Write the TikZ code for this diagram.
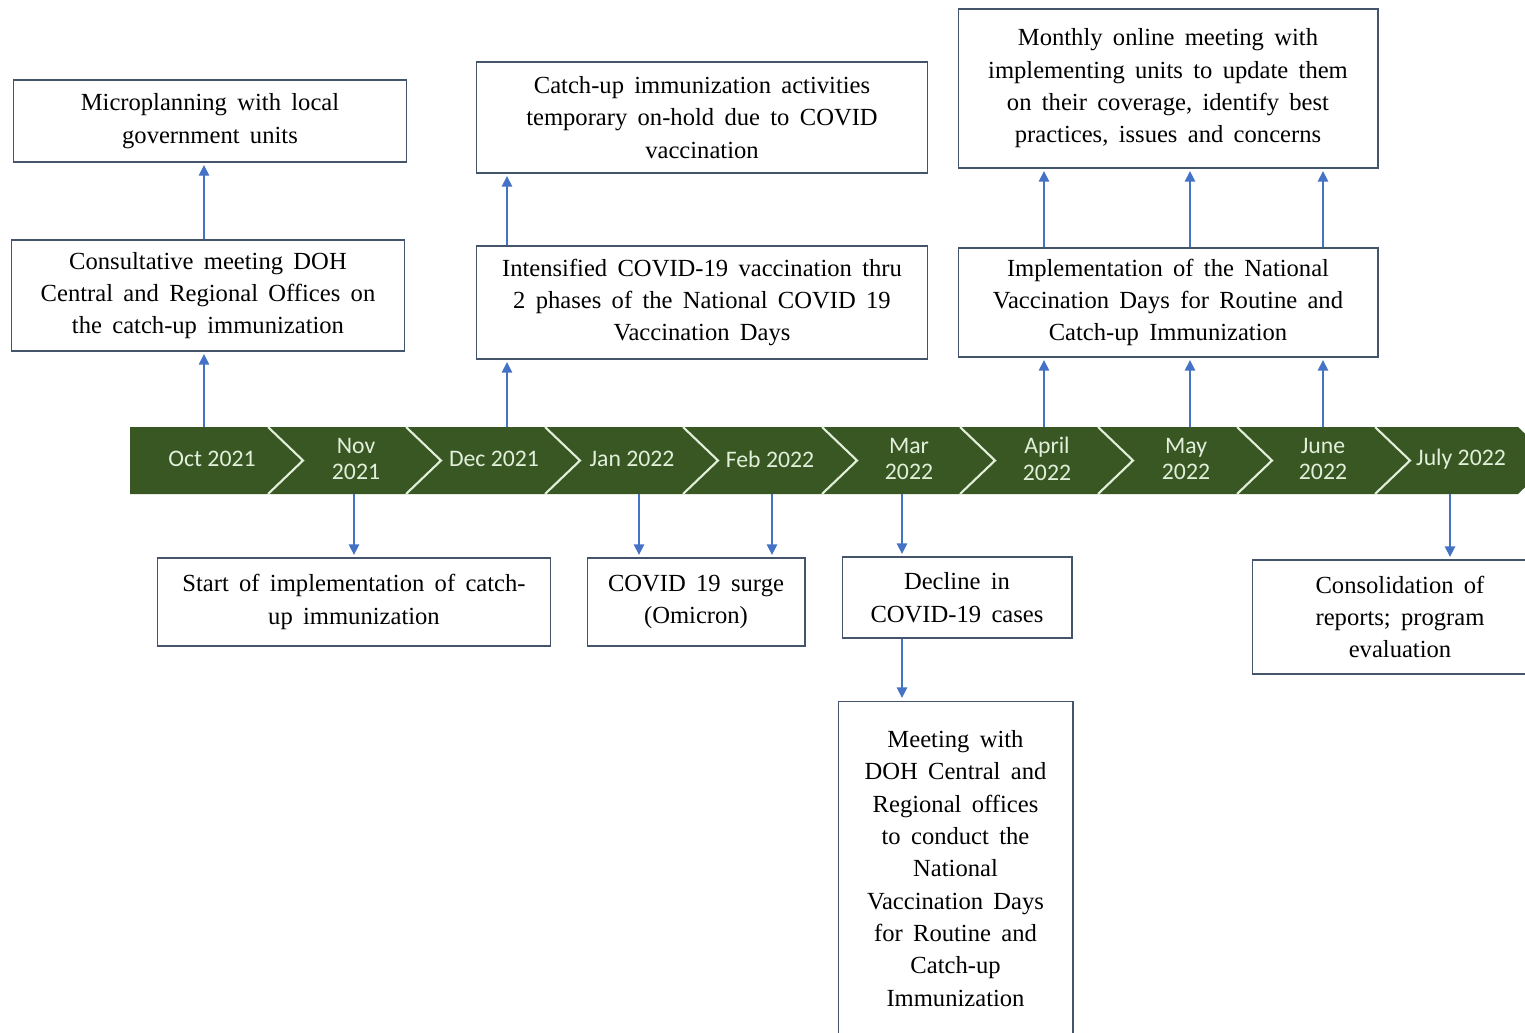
\documentclass[tikz,border=0pt]{standalone}
\usepackage{fontspec}
\setmainfont{Liberation Serif}
\newfontfamily\monthfont{Carlito}
\newcommand\widespaces{\spaceskip=0.42em\relax}
\usetikzlibrary{arrows.meta}
\definecolor{bandgreen}{RGB}{56,87,35}
\definecolor{bandtext}{RGB}{226,239,218}
\definecolor{boxline}{RGB}{68,84,106}
\definecolor{linkblue}{RGB}{68,114,196}
\begin{document}
\begin{tikzpicture}[x=0.02cm,y=-0.02cm,
  >={Triangle[length=6pt,width=6pt]},
  box/.style={draw=boxline,line width=0.6pt,align=center,inner sep=0pt,
    font=\fontsize{14}{18.4}\selectfont\widespaces},
  month/.style={text=bandtext,align=center,font=\monthfont\fontsize{13.5}{15}\selectfont},
  link/.style={->,draw=linkblue,line width=0.8pt,shorten >=1.5pt}]
\clip (0,0) rectangle (1525,1032);

% timeline band
\fill[bandgreen] (130,427) -- (1518,427) -- (1553,460.5) -- (1518,494) -- (130,494) -- cycle;
\draw[bandtext,line width=1.2pt] (268,427) -- (303,460.5) -- (268,494);
\draw[bandtext,line width=1.2pt] (406,427) -- (441,460.5) -- (406,494);
\draw[bandtext,line width=1.2pt] (545,427) -- (580,460.5) -- (545,494);
\draw[bandtext,line width=1.2pt] (683,427) -- (718,460.5) -- (683,494);
\draw[bandtext,line width=1.2pt] (822,427) -- (857,460.5) -- (822,494);
\draw[bandtext,line width=1.2pt] (960,427) -- (995,460.5) -- (960,494);
\draw[bandtext,line width=1.2pt] (1098,427) -- (1133,460.5) -- (1098,494);
\draw[bandtext,line width=1.2pt] (1237,427) -- (1272,460.5) -- (1237,494);
\draw[bandtext,line width=1.2pt] (1375,427) -- (1410,460.5) -- (1375,494);

\node[month] (oct) at (212,459) {Oct 2021};
\node[month] (nov) at (356,459) {Nov\\2021};
\node[month] (dec) at (494,459) {Dec 2021};
\node[month] (jan) at (632,459) {Jan 2022};
\node[month] (feb) at (770,459) {Feb 2022};
\node[month] (mar) at (909,459) {Mar\\2022};
\node[month] (apr) at (1047,459) {April\\2022};
\node[month] (may) at (1186,459) {May\\2022};
\node[month] (jun) at (1323,459) {June\\2022};
\node[month] (jul) at (1461,459) {July 2022};

% points on the band
\coordinate (up1) at (204,427);
\coordinate (up2) at (507,427);
\coordinate (up3) at (1044,427);
\coordinate (up4) at (1190,427);
\coordinate (up5) at (1323,427);
\coordinate (dn1) at (354,494);
\coordinate (dn2) at (639,494);
\coordinate (dn3) at (772,494);
\coordinate (dn4) at (902,494);
\coordinate (dn5) at (1450,494);

% boxes above
\node[box,minimum width=7.88cm,minimum height=1.64cm] (micro) at (210,121)
  {Microplanning with local\\government units};
\node[box,minimum width=7.88cm,minimum height=2.22cm] (consult) at (208,295.5)
  {Consultative meeting DOH\\Central and Regional Offices on\\the catch-up immunization};
\node[box,minimum width=9.04cm,minimum height=2.22cm] (hold) at (702,117.5)
  {Catch-up immunization activities\\temporary on-hold due to COVID\\vaccination};
\node[box,minimum width=9.04cm,minimum height=2.26cm] (intens) at (702,302.5)
  {Intensified COVID-19 vaccination thru\\2 phases of the National COVID 19\\Vaccination Days};
\node[box,minimum width=8.4cm,minimum height=3.18cm] (monthly) at (1168,88.5)
  {Monthly online meeting with\\implementing units to update them\\on their coverage, identify best\\practices, issues and concerns};
\node[box,minimum width=8.4cm,minimum height=2.18cm] (impl) at (1168,302.5)
  {Implementation of the National\\Vaccination Days for Routine and\\Catch-up Immunization};

% boxes below
\node[box,minimum width=7.88cm,minimum height=1.76cm] (start) at (354,602)
  {Start of implementation of catch-\\up immunization};
\node[box,minimum width=4.36cm,minimum height=1.76cm] (surge) at (696,602)
  {COVID 19 surge\\(Omicron)};
\node[box,minimum width=4.6cm,minimum height=1.62cm] (decline) at (957,597.5)
  {Decline in\\COVID-19 cases};
\node[box,minimum width=4.7cm,minimum height=6.7cm] (meet) at (955.5,868.5)
  {Meeting with\\DOH Central and\\Regional offices\\to conduct the\\National\\Vaccination Days\\for Routine and\\Catch-up\\Immunization};
\node[box,minimum width=5.92cm,minimum height=2.28cm] (consol) at (1400,617)
  {Consolidation of\\reports; program\\evaluation};

% arrows up
\draw[link] (up1) -- (up1 |- consult.south);
\draw[link] (consult.north -| up1) -- (micro.south -| up1);
\draw[link] (up2) -- (up2 |- intens.south);
\draw[link] (intens.north -| up2) -- (hold.south -| up2);
\draw[link] (up3) -- (up3 |- impl.south);
\draw[link] (up4) -- (up4 |- impl.south);
\draw[link] (up5) -- (up5 |- impl.south);
\draw[link] (impl.north -| up3) -- (monthly.south -| up3);
\draw[link] (impl.north -| up4) -- (monthly.south -| up4);
\draw[link] (impl.north -| up5) -- (monthly.south -| up5);

% arrows down
\draw[link] (dn1) -- (dn1 |- start.north);
\draw[link] (dn2) -- (dn2 |- surge.north);
\draw[link] (dn3) -- (dn3 |- surge.north);
\draw[link] (dn4) -- (dn4 |- decline.north);
\draw[link] (decline.south -| dn4) -- (meet.north -| dn4);
\draw[link] (dn5) -- (dn5 |- consol.north);
\end{tikzpicture}
\end{document}
